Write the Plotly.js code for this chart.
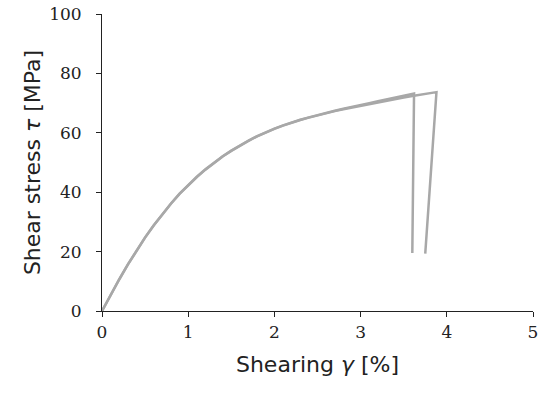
<!DOCTYPE html>
<html>
<head>
<meta charset="utf-8">
<script src="https://cdn.plot.ly/plotly-3.0.1.min.js"></script>
<style>
  html, body { margin: 0; padding: 0; background: #fff; }
  #chart { width: 550px; height: 397px; }
</style>
</head>
<body>
<div id="chart"></div>
<script>
// specimen 1
const strain1 = [0, 0.1, 0.2, 0.3, 0.4, 0.5, 0.6, 0.7, 0.8, 0.9, 1.0, 1.1, 1.2, 1.3, 1.4, 1.5, 1.6, 1.7, 1.8, 1.9,
  2.0, 2.1, 2.2, 2.3, 2.4, 2.5, 2.6, 2.7, 2.8, 2.9, 3.0, 3.1, 3.2, 3.3, 3.4, 3.5, 3.6, 3.62, 3.60];
const stress1 = [0, 5.5, 10.7, 15.7, 20.4, 24.8, 28.9, 32.7, 36.2, 39.5, 42.5, 45.2, 47.7, 50.0, 52.1, 54.0, 55.8, 57.4, 58.9, 60.2,
  61.4, 62.5, 63.5, 64.4, 65.2, 66.0, 66.7, 67.4, 68.1, 68.8, 69.4, 70.0, 70.6, 71.2, 71.8, 72.4, 73.0, 73.2, 19.5];

// specimen 2
const strain2 = [0, 0.1, 0.2, 0.3, 0.4, 0.5, 0.6, 0.7, 0.8, 0.9, 1.0, 1.1, 1.2, 1.3, 1.4, 1.5, 1.6, 1.7, 1.8, 1.9,
  2.0, 2.1, 2.2, 2.3, 2.4, 2.5, 2.6, 2.7, 2.8, 2.9, 3.0, 3.1, 3.2, 3.3, 3.4, 3.5, 3.6, 3.7, 3.8, 3.88, 3.75];
const stress2 = [0, 5.4, 10.6, 15.6, 20.3, 24.7, 28.8, 32.6, 36.1, 39.4, 42.4, 45.1, 47.6, 49.9, 52.0, 53.9, 55.7, 57.3, 58.8, 60.1,
  61.3, 62.4, 63.4, 64.3, 65.1, 65.9, 66.6, 67.3, 67.9, 68.5, 69.1, 69.7, 70.3, 70.9, 71.4, 71.9, 72.4, 72.9, 73.4, 73.7, 19.3];

const xTicks = [0, 1, 2, 3, 4, 5];
const yTicks = [0, 20, 40, 60, 80, 100];

const lineStyle = { color: "#a8a8a8", width: 2.5 };
const tickFont = { family: "DejaVu Serif, serif", size: 17, color: "#222" };
const titleFont = { family: "DejaVu Sans, sans-serif", size: 22, color: "#222" };

Plotly.newPlot(
  "chart",
  [
    { x: strain1, y: stress1, mode: "lines", line: lineStyle, hoverinfo: "skip" },
    { x: strain2, y: stress2, mode: "lines", line: lineStyle, hoverinfo: "skip" },
  ],
  {
    width: 550,
    height: 397,
    showlegend: false,
    paper_bgcolor: "#ffffff",
    plot_bgcolor: "#ffffff",
    margin: { l: 102, r: 17, t: 14, b: 86 },
    xaxis: {
      range: [0, 5],
      tickvals: xTicks,
      ticktext: xTicks.map(String),
      showgrid: false,
      zeroline: false,
      showline: true,
      linecolor: "#222",
      linewidth: 1.2,
      ticks: "outside",
      ticklen: 5,
      tickcolor: "#222",
      tickfont: tickFont,
      title: { text: "Shearing <i>γ</i> [%]", font: titleFont, standoff: 16 },
    },
    yaxis: {
      range: [0, 100],
      tickvals: yTicks,
      // two no-break spaces keep the labels clear of the ticks
      ticktext: yTicks.map(v => v + "\u00a0\u00a0"),
      showgrid: false,
      zeroline: false,
      showline: true,
      linecolor: "#222",
      linewidth: 1.2,
      ticks: "outside",
      ticklen: 5,
      tickcolor: "#222",
      tickfont: tickFont,
      title: { text: "Shear stress <i>τ</i> [MPa]", font: titleFont, standoff: 2 },
    },
  },
  { displayModeBar: false, staticPlot: true }
);
</script>
</body>
</html>
